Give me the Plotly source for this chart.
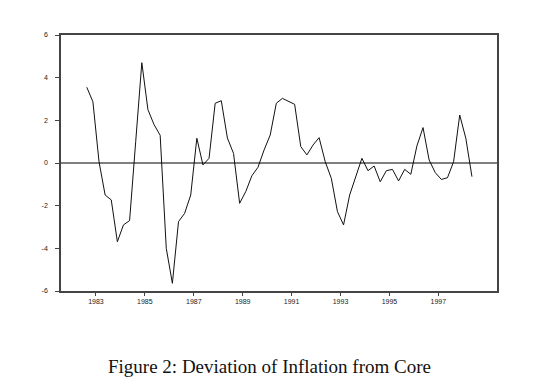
import plotly.graph_objects as go

# Quarterly observations, 1982Q3 .. 1998Q2 (quarter midpoints in fractional years)
start_year = 1982.625
deviation = [
    3.55, 2.87, 0.06, -1.50, -1.73, -3.69, -2.90, -2.70,
    1.00, 4.70, 2.50, 1.80, 1.30, -4.00, -5.64, -2.75,
    -2.36, -1.50, 1.16, -0.09, 0.22, 2.80, 2.92, 1.17,
    0.45, -1.89, -1.34, -0.60, -0.20, 0.61, 1.31, 2.80,
    3.03, 2.90, 2.75, 0.77, 0.38, 0.84, 1.19, 0.06,
    -0.72, -2.28, -2.90, -1.50, -0.64, 0.22, -0.36, -0.14,
    -0.88, -0.36, -0.30, -0.84, -0.30, -0.53, 0.80, 1.66,
    0.14, -0.45, -0.77, -0.69, 0.06, 2.25, 1.16, -0.64,
]
quarters = [start_year + 0.25 * i for i in range(len(deviation))]

x_tick_years = [1983, 1985, 1987, 1989, 1991, 1993, 1995, 1997]
x_tick_labels = [str(y) for y in x_tick_years]
y_tick_vals = [-6, -4, -2, 0, 2, 4, 6]
y_tick_labels = [str(v) for v in y_tick_vals]
caption = "Figure 2: Deviation of Inflation from Core"

fig = go.Figure()
fig.add_trace(go.Scatter(
    x=quarters, y=deviation, mode="lines",
    line=dict(color="#111111", width=1),
    showlegend=False, hoverinfo="skip",
))

fig.add_hline(y=0, line=dict(color="#000000", width=1.2))

fig.update_layout(
    width=551, height=378,
    margin=dict(l=53, r=62, t=27, b=95),
    paper_bgcolor="white", plot_bgcolor="white",
    xaxis=dict(
        range=[1981.57, 1999.40],
        tickvals=x_tick_years, ticktext=x_tick_labels,
        ticks="outside", ticklen=3, tickcolor="#444",
        showgrid=False, zeroline=False,
        showline=True, linecolor="#444", linewidth=1.5, mirror=True,
        tickfont=dict(family="Liberation Sans, Arial", size=7, color="#222"),
    ),
    yaxis=dict(
        range=[-6, 6],
        tickvals=y_tick_vals, ticktext=y_tick_labels,
        ticks="outside", ticklen=4, tickcolor="#444",
        showgrid=False, zeroline=False,
        showline=True, linecolor="#444", linewidth=1.5, mirror=True,
        tickfont=dict(family="Liberation Sans, Arial", size=7, color="#222"),
        ticklabelstandoff=6,
    ),
    annotations=[dict(
        text=caption, xref="paper", yref="paper",
        x=0.479, y=-0.293, xanchor="center", yanchor="middle",
        showarrow=False,
        font=dict(family="Liberation Serif, DejaVu Serif", size=19, color="#111"),
    )],
)

fig.write_html("out.html")
